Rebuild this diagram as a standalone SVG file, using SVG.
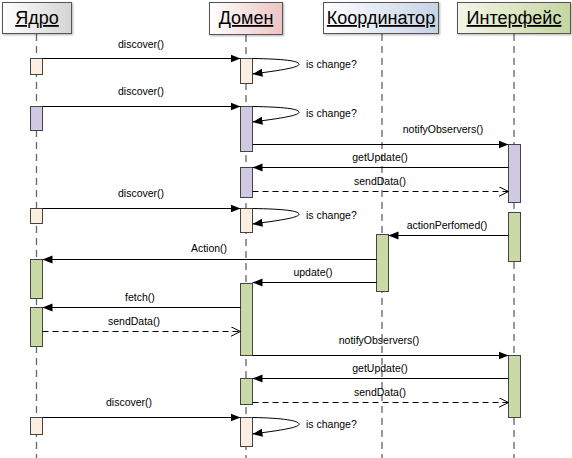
<svg xmlns="http://www.w3.org/2000/svg" width="572" height="458" viewBox="0 0 572 458">
<defs>
<linearGradient id="gY" x1="0" x2="1" y1="0" y2="0"><stop offset="0" stop-color="#ffffff"/><stop offset="1" stop-color="#d4d4d4"/></linearGradient>
<linearGradient id="gD" x1="0" x2="1" y1="0" y2="0"><stop offset="0" stop-color="#ffffff"/><stop offset="1" stop-color="#edc4c4"/></linearGradient>
<linearGradient id="gK" x1="0" x2="1" y1="0" y2="0"><stop offset="0" stop-color="#ffffff"/><stop offset="1" stop-color="#c6d3e6"/></linearGradient>
<linearGradient id="gI" x1="0" x2="1" y1="0" y2="0"><stop offset="0" stop-color="#f4f6e8"/><stop offset="1" stop-color="#c4d6a2"/></linearGradient>
<marker id="af" viewBox="0 0 10 10" refX="10" refY="5" markerWidth="10" markerHeight="10" markerUnits="userSpaceOnUse" orient="auto"><path d="M0,1 L10,5 L0,9 z" fill="#000"/></marker>
<marker id="ao" viewBox="0 0 10 10" refX="10" refY="5" markerWidth="10" markerHeight="10" markerUnits="userSpaceOnUse" orient="auto"><path d="M0,0 L10,5 L0,10" fill="none" stroke="#000" stroke-width="1"/></marker>
<filter id="sh" x="-10%" y="-10%" width="130%" height="140%"><feDropShadow dx="1" dy="1" stdDeviation="0.8" flood-color="#000" flood-opacity="0.3"/></filter>
</defs>
<style>
.hdr{stroke:#555;stroke-width:1}
.ht{font-family:"Liberation Sans",Arial,sans-serif;font-size:18px;text-decoration:underline;fill:#000;text-anchor:middle}
.life{stroke:#666;stroke-width:1.3;stroke-dasharray:7,5;fill:none}
.act{stroke:#444;stroke-width:1}
.pe{fill:#fdeee2}
.lv{fill:#cfc9e1}
.gr{fill:#cadaa7}
.msg{stroke:#000;stroke-width:1;fill:none;marker-end:url(#af)}
.ret{stroke:#000;stroke-width:1;fill:none;stroke-dasharray:6,4;marker-end:url(#ao)}
.lbl{font-family:"Liberation Sans",Arial,sans-serif;font-size:10.5px;fill:#000;text-anchor:middle}
.lbs{font-family:"Liberation Sans",Arial,sans-serif;font-size:10.5px;fill:#000}
</style>
<g id="lifelines">
<line class="life" x1="36.5" y1="34" x2="36.5" y2="458"/>
<line class="life" x1="246" y1="35" x2="246" y2="458"/>
<line class="life" x1="382" y1="34" x2="382" y2="458"/>
<line class="life" x1="514" y1="34" x2="514" y2="458"/>
</g>
<g id="node-yadro">
<rect class="hdr" x="2.5" y="2.5" width="69" height="31" fill="url(#gY)" filter="url(#sh)"/>
<text class="ht" x="37" y="24">Ядро</text>
</g>
<g id="node-domen">
<rect class="hdr" x="209.5" y="2.5" width="73" height="32" fill="url(#gD)" filter="url(#sh)"/>
<text class="ht" x="246" y="24">Домен</text>
</g>
<g id="node-koord">
<rect class="hdr" x="323.5" y="2.5" width="115" height="31" fill="url(#gK)" filter="url(#sh)"/>
<text class="ht" x="381" y="24">Координатор</text>
</g>
<g id="node-interf">
<rect class="hdr" x="457.5" y="2.5" width="113" height="31" fill="url(#gI)" filter="url(#sh)"/>
<text class="ht" x="514" y="24">Интерфейс</text>
</g>
<g id="activations">
<rect class="act pe" x="30.5" y="58.5" width="12" height="16"/>
<rect class="act pe" x="240.5" y="58.5" width="12" height="25"/>
<rect class="act lv" x="30.5" y="106.5" width="12" height="24"/>
<rect class="act lv" x="240.5" y="106.5" width="12" height="45"/>
<rect class="act lv" x="240.5" y="167.5" width="12" height="30"/>
<rect class="act lv" x="508.5" y="144.5" width="12" height="58"/>
<rect class="act pe" x="30.5" y="208.5" width="12" height="15"/>
<rect class="act pe" x="240.5" y="208.5" width="12" height="24"/>
<rect class="act gr" x="508.5" y="212.5" width="12" height="49"/>
<rect class="act gr" x="376.5" y="234.5" width="12" height="57"/>
<rect class="act gr" x="30.5" y="259.5" width="12" height="39"/>
<rect class="act gr" x="240.5" y="283.5" width="12" height="72"/>
<rect class="act gr" x="30.5" y="307.5" width="12" height="39"/>
<rect class="act gr" x="508.5" y="355.5" width="12" height="62"/>
<rect class="act gr" x="240.5" y="378.5" width="12" height="26"/>
<rect class="act pe" x="30.5" y="417.5" width="12" height="17"/>
<rect class="act pe" x="240.5" y="417.5" width="12" height="29"/>
</g>
<g id="connectors">
<path class="msg" d="M42.5,58.5 H240.5"/>
<text class="lbl" x="141" y="48">discover()</text>
<path class="msg" d="M252.5,58.5 C285,59 300,61 299,64.5 C298,68 275,71 252.5,74"/>
<text class="lbs" x="306" y="68">is change?</text>

<path class="msg" d="M42.5,106.5 H240.5"/>
<text class="lbl" x="141" y="95">discover()</text>
<path class="msg" d="M252.5,106.5 C285,107 300,109 299,112.5 C298,116 275,119 252.5,122"/>
<text class="lbs" x="306" y="117">is change?</text>

<path class="msg" d="M252.5,144.5 H508.5"/>
<text class="lbl" x="443" y="133">notifyObservers()</text>
<path class="msg" d="M508.5,167.5 H252.5"/>
<text class="lbl" x="380" y="161">getUpdate()</text>
<path class="ret" d="M252.5,191.5 H508.5"/>
<text class="lbl" x="380" y="185">sendData()</text>

<path class="msg" d="M42.5,208.5 H240.5"/>
<text class="lbl" x="141" y="197">discover()</text>
<path class="msg" d="M252.5,208.5 C285,209 300,211 299,214.5 C298,218 275,221 252.5,224"/>
<text class="lbs" x="306" y="219">is change?</text>

<path class="msg" d="M508.5,235.5 H388.5"/>
<text class="lbl" x="447" y="229">actionPerfomed()</text>
<path class="msg" d="M376.5,259.5 H42.5"/>
<text class="lbl" x="209" y="252">Action()</text>
<path class="msg" d="M376.5,282.5 H252.5"/>
<text class="lbl" x="313" y="276">update()</text>
<path class="msg" d="M240.5,307.5 H42.5"/>
<text class="lbl" x="140" y="301">fetch()</text>
<path class="ret" d="M42.5,331.5 H240.5"/>
<text class="lbl" x="134" y="325">sendData()</text>

<path class="msg" d="M252.5,355.5 H508.5"/>
<text class="lbl" x="379" y="344">notifyObservers()</text>
<path class="msg" d="M508.5,378.5 H252.5"/>
<text class="lbl" x="380" y="372">getUpdate()</text>
<path class="ret" d="M252.5,402.5 H508.5"/>
<text class="lbl" x="380" y="396">sendData()</text>

<path class="msg" d="M42.5,417.5 H240.5"/>
<text class="lbl" x="129" y="406">discover()</text>
<path class="msg" d="M252.5,417.5 C285,418 300,421 299,424.5 C298,428 275,431 252.5,434"/>
<text class="lbs" x="306" y="428">is change?</text>
</g>
</svg>
